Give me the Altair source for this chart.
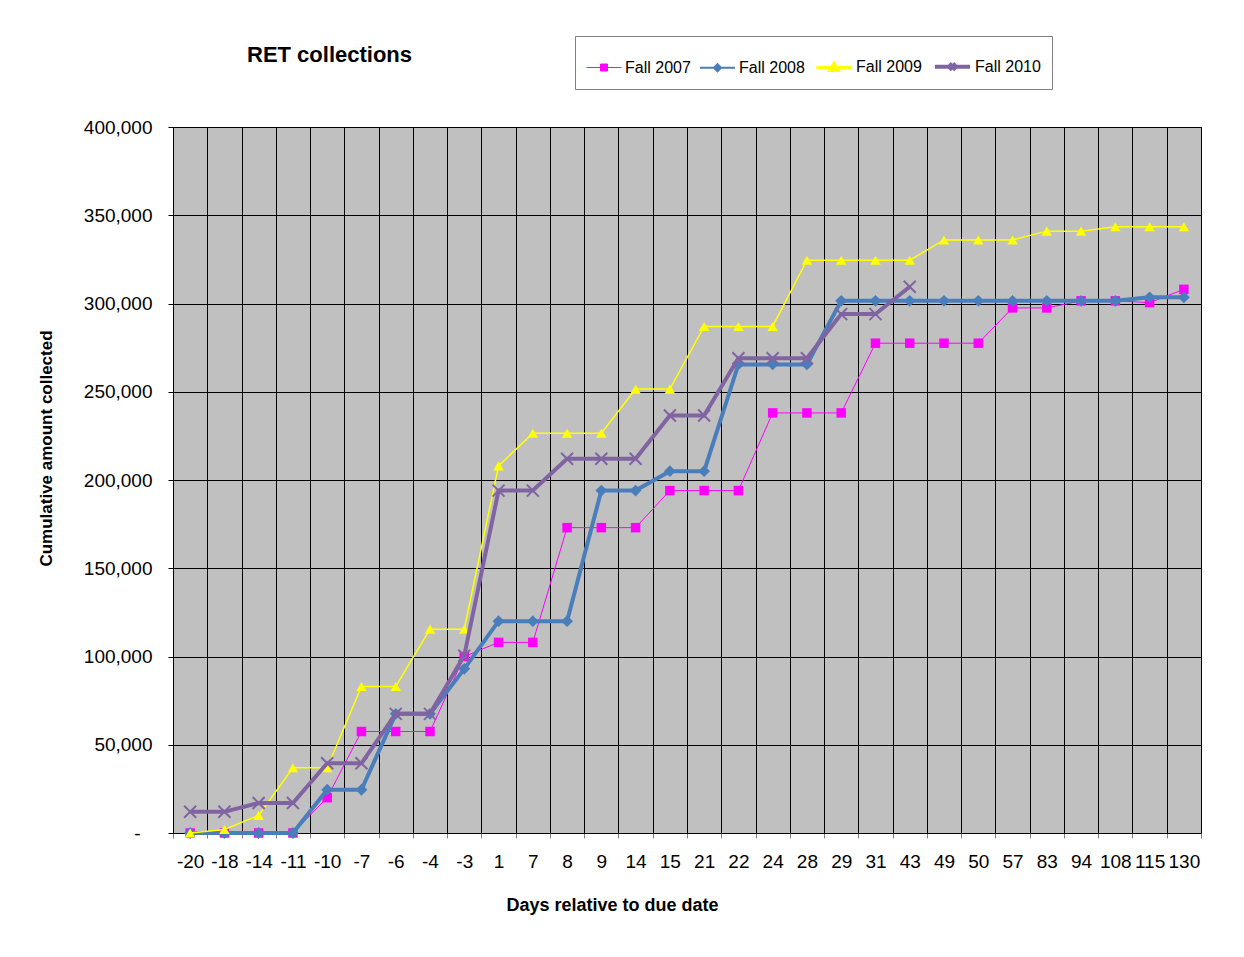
import altair as alt
import pandas as pd

# ---------------- data ----------------
days = ["-20", "-18", "-14", "-11", "-10", "-7", "-6", "-4", "-3", "1", "7", "8", "9",
        "14", "15", "21", "22", "24", "28", "29", "31", "43", "49", "50", "57", "83",
        "94", "108", "115", "130"]

series_names = ["Fall 2007", "Fall 2008", "Fall 2009", "Fall 2010"]

fall_2007 = [0, 0, 0, 0, 20000, 57500, 57500, 57500, 100000, 108000, 108000, 173000,
             173000, 173000, 194000, 194000, 194000, 238000, 238000, 238000, 277500,
             277500, 277500, 277500, 297500, 297500, 301500, 301500, 300500, 308000]

fall_2008 = [0, 0, 0, 0, 24500, 24500, 67500, 67500, 93000, 120000, 120000, 120000,
             194000, 194000, 205000, 205000, 265500, 265500, 265500, 301500, 301500,
             301500, 301500, 301500, 301500, 301500, 301500, 301500, 303500, 303500]

fall_2009 = [0, 2000, 10000, 37000, 37000, 83000, 83000, 115500, 115500, 208000, 226500,
             226500, 226500, 251500, 251500, 287000, 287000, 287000, 324500, 324500,
             324500, 324500, 336000, 336000, 336000, 341000, 341000, 343500, 343500, 343500]

fall_2010 = [12000, 12000, 17000, 17000, 39500, 39500, 67500, 67500, 100500, 194000,
             194000, 212000, 212000, 212000, 236500, 236500, 269000, 269000, 269000,
             294000, 294000, 309500, None, None, None, None, None, None, None, None]

y_ticks = [0, 50000, 100000, 150000, 200000, 250000, 300000, 350000, 400000]

# ---------------- styles ----------------
colors = ["#FF00FF", "#4A7EBB", "#FFFF00", "#8064A2"]
line_widths = [1, 4, 1.5, 4]
marker_shapes = ["square", "diamond", "triangle-up", "M-1,-1L1,1M-1,1L1,-1"]
marker_filled = [True, True, True, False]
marker_sizes = [90, 140, 110, 144]
legend_paths = [
    "M-1,0H1M-0.2,-0.2H0.2V0.2H-0.2Z",
    "M-1,0H1M0,-0.2L0.2,0L0,0.2L-0.2,0Z",
    "M-1,0H1M0,-0.24L0.24,0.18L-0.24,0.18Z",
    "M-1,0H1M-0.18,-0.18L0.18,0.18M-0.18,0.18L0.18,-0.18",
]
legend_stroke_widths = [1, 4, 1.5, 4]

FONT = "Liberation Sans"

rows = []
for name, vals in zip(series_names, [fall_2007, fall_2008, fall_2009, fall_2010]):
    for d, v in zip(days, vals):
        if v is not None:
            rows.append({"day": d, "series": name, "amount": v})
df = pd.DataFrame(rows)

# ---------------- encodings ----------------
x_enc = alt.X(
    "day:N", sort=days,
    scale=alt.Scale(type="band", paddingInner=0, paddingOuter=0),
    axis=alt.Axis(
        title="Days relative to due date", tickBand="extent", grid=True,
        gridColor="#000000", gridWidth=1, domainColor="#000000", domainWidth=1,
        tickColor="#808080", tickSize=5, labelAngle=0, labelOverlap=False,
        labelFlush=False, labelFontSize=19, labelFont=FONT, labelColor="#000000",
        labelPadding=14, titleFont=FONT, titleFontSize=18, titleFontWeight="bold",
        titleColor="#000000", titleX=439, titleY=77, titleAlign="center",
        titleBaseline="alphabetic",
    ),
)

y_enc = alt.Y(
    "amount:Q",
    scale=alt.Scale(domain=[0, 400000], nice=False),
    axis=alt.Axis(
        values=y_ticks, title="Cumulative amount collected",
        labelExpr="datum.value == 0 ? '-' : format(datum.value, ',')",
        labelPadding={"condition": {"test": "datum.value == 0", "value": 28}, "value": 16},
        grid=True, gridColor="#000000", gridWidth=1, domainColor="#000000",
        tickColor="#000000", tickSize=5, labelFontSize=19,
        labelFont=FONT, labelColor="#000000", titleFont=FONT, titleFontSize=17,
        titleFontWeight="bold", titleColor="#000000", titleX=-127, titleY=321,
        titleAngle=270, titleAlign="center", titleBaseline="middle",
    ),
)

base = alt.Chart(df)

layers = []
for i, name in enumerate(series_names):
    sub = base.transform_filter(alt.datum.series == name)
    layers.append(
        sub.mark_line(color=colors[i], strokeWidth=line_widths[i]).encode(x=x_enc, y=y_enc)
    )
    if marker_filled[i]:
        pt = sub.mark_point(shape=marker_shapes[i], filled=True, color=colors[i],
                            size=marker_sizes[i], opacity=1)
    else:
        pt = sub.mark_point(shape=marker_shapes[i], filled=False, color=colors[i],
                            size=marker_sizes[i], strokeWidth=2, opacity=1)
    layers.append(pt.encode(x=x_enc, y=y_enc))

legend_def = alt.Legend(
    title=None, orient="none", legendX=402, legendY=-91, direction="horizontal",
    fillColor="white", strokeColor="#808080", padding=11, symbolSize=1225,
    labelFontSize=16, labelFont=FONT, labelColor="#000000", labelOffset=3,
    columnPadding=5, symbolOpacity=1, symbolFillColor="#000000",
    symbolStrokeColor="#000000",
)

legend_layer = base.mark_point(filled=True, opacity=0).encode(
    x=x_enc, y=y_enc,
    fill=alt.Fill("series:N", scale=alt.Scale(domain=series_names, range=colors),
                  legend=legend_def),
    stroke=alt.Stroke("series:N", scale=alt.Scale(domain=series_names, range=colors),
                      legend=legend_def),
    shape=alt.Shape("series:N", scale=alt.Scale(domain=series_names, range=legend_paths),
                    legend=legend_def),
    strokeWidth=alt.StrokeWidth("series:N",
                                scale=alt.Scale(domain=series_names, range=legend_stroke_widths),
                                legend=legend_def),
)
layers.append(legend_layer)

chart = alt.layer(*layers).properties(
    width=1028, height=706,
    autosize=alt.AutoSizeParams(type="none"),
    padding={"left": 165, "top": 119, "right": 35, "bottom": 120},
    title=alt.TitleParams(
        "RET collections", anchor="start", frame="group", dx=74, offset=-48,
        fontSize=22, font=FONT, fontWeight="bold", color="#000000",
        baseline="alphabetic",
    ),
).configure_view(fill="#C0C0C0", stroke="#808080", strokeWidth=1)

chart.save("out.html", embed_options={"renderer": "svg", "actions": False})
